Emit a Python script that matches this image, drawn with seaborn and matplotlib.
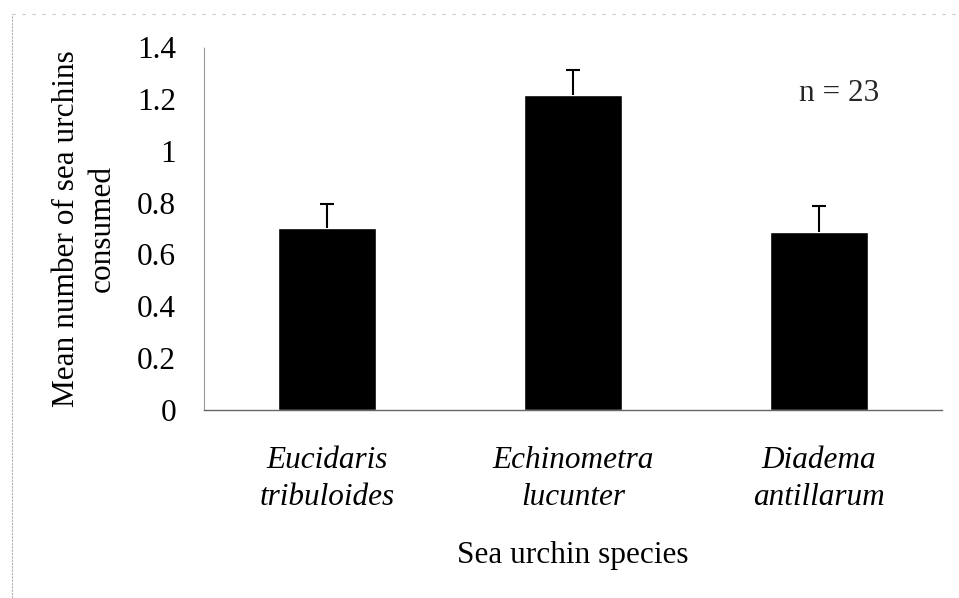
import numpy as np
import pandas as pd
import matplotlib
matplotlib.use("Agg")
import matplotlib.pyplot as plt
import seaborn as sns
from matplotlib.lines import Line2D

# values
species = ["Eucidaris\ntribuloides", "Echinometra\nlucunter", "Diadema\nantillarum"]
mean_consumed = [0.70, 1.215, 0.685]
upper_err = [0.095, 0.095, 0.10]
n_label = "n = 23"

sns.set_theme(style="white")
plt.rcParams["font.family"] = ["Liberation Serif", "DejaVu Serif"]

FS = 22.5

df = pd.DataFrame({"species": species, "mean": mean_consumed})

fig = plt.figure(figsize=(9.59, 5.98), dpi=100)
ax = fig.add_axes([0.2127, 0.3144, 0.9823 - 0.2127, 0.9214 - 0.3144])

sns.barplot(data=df, x="species", y="mean", color="black", width=0.4,
            errorbar=None, saturation=1, ax=ax)

# upper-only error bars (hide the lower cap)
xs = np.arange(len(species))
eb = ax.errorbar(xs, mean_consumed, yerr=[np.zeros(len(species)), upper_err],
                 fmt="none", ecolor="black", elinewidth=1.5, capsize=5, capthick=1.5)
eb[1][0].set_visible(False)

ax.set_ylim(0, 1.4)
ax.set_xlim(-0.5, 2.5)
ax.set_yticks([0, 0.2, 0.4, 0.6, 0.8, 1.0, 1.2, 1.4])
ax.set_yticklabels(["0", "0.2", "0.4", "0.6", "0.8", "1", "1.2", "1.4"], fontsize=FS)
ax.set_xticks(xs)
ax.set_xticklabels(species, fontsize=FS, style="italic", linespacing=1.34)
ax.tick_params(axis="y", length=0, pad=20, colors="black")
ax.tick_params(axis="x", length=0, pad=26, colors="black")

ax.set_ylabel("Mean number of sea urchins\nconsumed", fontsize=FS,
              linespacing=1.34, labelpad=14.5, color="black")
ax.set_xlabel("Sea urchin species", fontsize=FS, labelpad=21, color="black")

ax.text(2.08, 1.22, n_label, fontsize=FS, ha="center", va="center")

sns.despine(ax=ax, top=True, right=True)
ax.spines["left"].set_color("#9a9a9a")
ax.spines["left"].set_linewidth(0.8)
ax.spines["left"].set_linestyle((0, (2, 1)))
ax.spines["bottom"].set_color("#666666")
ax.spines["bottom"].set_linewidth(1.0)
ax.grid(False)

# faint scan frame
fig.add_artist(Line2D([12 / 959, 12 / 959], [0, 1 - 14 / 598], transform=fig.transFigure,
                      color="#b0b0b0", lw=0.8, ls=(0, (2, 1))))
fig.add_artist(Line2D([12 / 959, 1], [1 - 14 / 598, 1 - 14 / 598], transform=fig.transFigure,
                      color="#c8c8c8", lw=0.8, ls=(0, (3, 6))))

fig.savefig("out.png", dpi=100)
